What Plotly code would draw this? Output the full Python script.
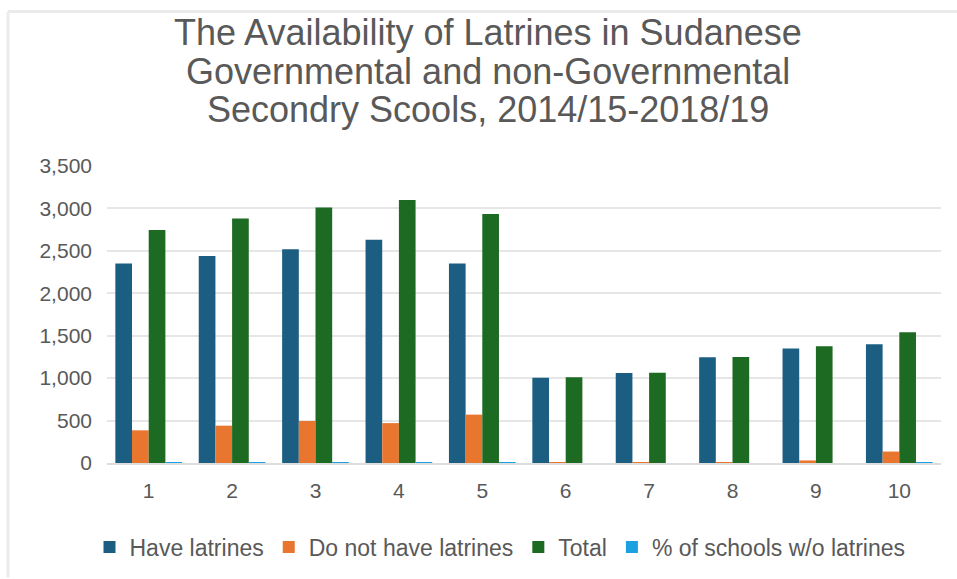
import plotly.graph_objects as go

categories = ["1", "2", "3", "4", "5", "6", "7", "8", "9", "10"]
have_latrines = [2350, 2440, 2520, 2630, 2350, 1005, 1060, 1245, 1350, 1400]
no_latrines = [385, 440, 495, 470, 570, 5, 5, 4, 30, 135]
total = [2745, 2880, 3010, 3100, 2935, 1010, 1065, 1250, 1375, 1540]
pct_without = [0.14, 0.153, 0.164, 0.152, 0.194, 0.005, 0.005, 0.003, 0.022, 0.088]

series_names = ["Have latrines", "Do not have latrines", "Total", "% of schools w/o latrines"]
colors = ["#1B5E82", "#E8762F", "#1D6A22", "#1BA1E2"]
y_ticks = [0, 500, 1000, 1500, 2000, 2500, 3000, 3500]
y_tick_text = ["0", "500", "1,000", "1,500", "2,000", "2,500", "3,000", "3,500"]
title_lines = [
    "The Availability of Latrines in Sudanese",
    "Governmental and non-Governmental",
    "Secondry Scools, 2014/15-2018/19",
]

W, H = 957, 579
ML, MR, MT, MB = 107, 16, 166, 115

fig = go.Figure()
for name, vals, col in zip(series_names, [have_latrines, no_latrines, total, pct_without], colors):
    fig.add_trace(go.Bar(x=categories, y=vals, name=name, marker=dict(color=col, line=dict(width=0))))

pw = W - ML - MR
ph = H - MT - MB
def px_x(p):
    return (p - ML) / pw
def px_y(p):
    return (H - MB - p) / ph

title_centers = [32, 71, 109]
annotations = [
    dict(text=t, xref="paper", yref="paper", x=px_x(488), y=px_y(c), xanchor="center", yanchor="middle",
         showarrow=False, font=dict(size=36, color="#595959"))
    for t, c in zip(title_lines, title_centers)
]

fig.update_layout(
    width=W, height=H,
    margin=dict(l=ML, r=MR, t=MT, b=MB),
    paper_bgcolor="white", plot_bgcolor="white",
    barmode="group", bargap=0.2, bargroupgap=0,
    font=dict(family="Liberation Sans, Arial", color="#595959"),
    annotations=annotations,
    xaxis=dict(type="category", showgrid=False, zeroline=False, showline=True,
               linecolor="#DDDDDD", linewidth=2, ticks="", ticklabelstandoff=8, layer="above traces",
               tickfont=dict(size=21, color="#595959")),
    yaxis=dict(range=[0, 3500], tickvals=y_ticks, ticktext=y_tick_text, showgrid=True,
               gridcolor="#E6E6E6", gridwidth=1.5, zeroline=False, ticks="", ticklabelstandoff=14,
               tickfont=dict(size=21, color="#595959")),
    legend=dict(orientation="h", x=px_x(500), xanchor="center", y=px_y(547), yanchor="middle",
                font=dict(size=23, color="#595959"), itemwidth=30, traceorder="normal"),
    shapes=[
        dict(type="line", xref="paper", yref="paper", x0=px_x(8), x1=px_x(957), y0=px_y(11), y1=px_y(11),
             line=dict(color="#EBEBEB", width=3)),
        dict(type="line", xref="paper", yref="paper", x0=px_x(8), x1=px_x(8), y0=px_y(11), y1=px_y(579),
             line=dict(color="#EBEBEB", width=3)),
    ],
)

fig.write_html("out.html", config={"displayModeBar": False},
               post_script="document.body.style.margin='0';")
